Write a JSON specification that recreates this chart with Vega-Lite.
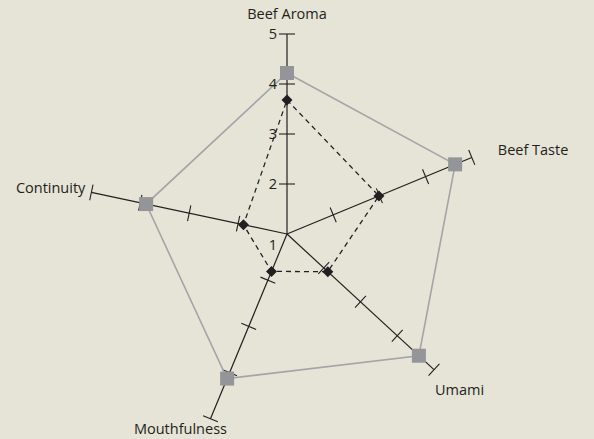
{
  "$schema": "https://vega.github.io/schema/vega-lite/v6.json",
  "width": 594,
  "height": 439,
  "padding": 0,
  "autosize": {"type": "none"},
  "background": "#e6e4d6",
  "config": {
    "view": {"stroke": null},
    "text": {"font": "Open Sans", "fontSize": 14.5, "color": "#231f20"}
  },
  "datasets": {
    "axes": [
      {"attribute": "Beef Aroma", "idx": 1, "angle": 90, "min": 1, "max": 5, "ticks": [2, 3, 4, 5]},
      {"attribute": "Beef Taste", "idx": 2, "angle": 22.5, "min": 1, "max": 5, "ticks": [2, 3, 4, 5]},
      {"attribute": "Umami", "idx": 3, "angle": -42.7, "min": 1, "max": 5, "ticks": [2, 3, 4, 5]},
      {"attribute": "Mouthfulness", "idx": 4, "angle": -112.5, "min": 1, "max": 5, "ticks": [2, 3, 4, 5]},
      {"attribute": "Continuity", "idx": 5, "angle": 168, "min": 1, "max": 5, "ticks": [2, 3, 4, 5]}
    ],
    "scores": [
      {"series": "A", "attribute": "Beef Aroma", "value": 4.22},
      {"series": "A", "attribute": "Beef Taste", "value": 4.64},
      {"series": "A", "attribute": "Umami", "value": 4.59},
      {"series": "A", "attribute": "Mouthfulness", "value": 4.13},
      {"series": "A", "attribute": "Continuity", "value": 3.88},
      {"series": "B", "attribute": "Beef Aroma", "value": 3.68},
      {"series": "B", "attribute": "Beef Taste", "value": 2.99},
      {"series": "B", "attribute": "Umami", "value": 2.11},
      {"series": "B", "attribute": "Mouthfulness", "value": 1.81},
      {"series": "B", "attribute": "Continuity", "value": 1.89}
    ]
  },
  "layer": [
    {
      "data": {"name": "axes"},
      "transform": [
        {"calculate": "datum.angle * PI / 180", "as": "rad"},
        {"calculate": "(datum.min - 1) * cos(datum.rad)", "as": "ox"},
        {"calculate": "(datum.min - 1) * sin(datum.rad)", "as": "oy"},
        {"calculate": "(datum.max - 1) * cos(datum.rad)", "as": "ex"},
        {"calculate": "(datum.max - 1) * sin(datum.rad)", "as": "ey"}
      ],
      "mark": {"type": "rule", "color": "#231f20", "strokeWidth": 1.2},
      "encoding": {
        "x": {"field": "ox", "type": "quantitative", "scale": {"domain": [-5.74, 6.14], "nice": false, "zero": false}, "axis": null},
        "y": {"field": "oy", "type": "quantitative", "scale": {"domain": [-4.1, 4.68], "nice": false, "zero": false}, "axis": null},
        "x2": {"field": "ex"},
        "y2": {"field": "ey"}
      }
    },
    {
      "data": {"name": "axes"},
      "transform": [
        {"flatten": ["ticks"], "as": ["tick"]},
        {"calculate": "datum.angle * PI / 180", "as": "rad"},
        {"calculate": "(datum.tick - 1) * cos(datum.rad) + 0.16 * sin(datum.rad)", "as": "tx1"},
        {"calculate": "(datum.tick - 1) * sin(datum.rad) - 0.16 * cos(datum.rad)", "as": "ty1"},
        {"calculate": "(datum.tick - 1) * cos(datum.rad) - 0.16 * sin(datum.rad)", "as": "tx2"},
        {"calculate": "(datum.tick - 1) * sin(datum.rad) + 0.16 * cos(datum.rad)", "as": "ty2"}
      ],
      "mark": {"type": "rule", "color": "#231f20", "strokeWidth": 1.1},
      "encoding": {
        "x": {"field": "tx1", "type": "quantitative", "scale": {"domain": [-5.74, 6.14], "nice": false, "zero": false}, "axis": null},
        "y": {"field": "ty1", "type": "quantitative", "scale": {"domain": [-4.1, 4.68], "nice": false, "zero": false}, "axis": null},
        "x2": {"field": "tx2"},
        "y2": {"field": "ty2"}
      }
    },
    {
      "data": {"name": "scores"},
      "transform": [
        {"filter": "datum.series == 'A'"},
        {"lookup": "attribute", "from": {"data": {"name": "axes"}, "key": "attribute", "fields": ["angle", "idx"]}},
        {"calculate": "(datum.value - 1) * cos(datum.angle * PI / 180)", "as": "px"},
        {"calculate": "(datum.value - 1) * sin(datum.angle * PI / 180)", "as": "py"}
      ],
      "mark": {"type": "line", "interpolate": "linear-closed", "color": "#a3a5a8", "strokeWidth": 1.6},
      "encoding": {
        "x": {"field": "px", "type": "quantitative", "scale": {"domain": [-5.74, 6.14], "nice": false, "zero": false}, "axis": null},
        "y": {"field": "py", "type": "quantitative", "scale": {"domain": [-4.1, 4.68], "nice": false, "zero": false}, "axis": null},
        "order": {"field": "idx", "type": "quantitative"}
      }
    },
    {
      "data": {"name": "scores"},
      "transform": [
        {"filter": "datum.series == 'B'"},
        {"lookup": "attribute", "from": {"data": {"name": "axes"}, "key": "attribute", "fields": ["angle", "idx"]}},
        {"calculate": "(datum.value - 1) * cos(datum.angle * PI / 180)", "as": "px"},
        {"calculate": "(datum.value - 1) * sin(datum.angle * PI / 180)", "as": "py"}
      ],
      "mark": {"type": "line", "interpolate": "linear-closed", "color": "#231f20", "strokeWidth": 1.3, "strokeDash": [5, 4]},
      "encoding": {
        "x": {"field": "px", "type": "quantitative", "scale": {"domain": [-5.74, 6.14], "nice": false, "zero": false}, "axis": null},
        "y": {"field": "py", "type": "quantitative", "scale": {"domain": [-4.1, 4.68], "nice": false, "zero": false}, "axis": null},
        "order": {"field": "idx", "type": "quantitative"}
      }
    },
    {
      "data": {"name": "scores"},
      "transform": [
        {"filter": "datum.series == 'A'"},
        {"lookup": "attribute", "from": {"data": {"name": "axes"}, "key": "attribute", "fields": ["angle", "idx"]}},
        {"calculate": "(datum.value - 1) * cos(datum.angle * PI / 180)", "as": "px"},
        {"calculate": "(datum.value - 1) * sin(datum.angle * PI / 180)", "as": "py"}
      ],
      "mark": {"type": "point", "shape": "square", "filled": true, "size": 196, "color": "#939598", "opacity": 1},
      "encoding": {
        "x": {"field": "px", "type": "quantitative", "scale": {"domain": [-5.74, 6.14], "nice": false, "zero": false}, "axis": null},
        "y": {"field": "py", "type": "quantitative", "scale": {"domain": [-4.1, 4.68], "nice": false, "zero": false}, "axis": null}
      }
    },
    {
      "data": {"name": "scores"},
      "transform": [
        {"filter": "datum.series == 'B'"},
        {"lookup": "attribute", "from": {"data": {"name": "axes"}, "key": "attribute", "fields": ["angle", "idx"]}},
        {"calculate": "(datum.value - 1) * cos(datum.angle * PI / 180)", "as": "px"},
        {"calculate": "(datum.value - 1) * sin(datum.angle * PI / 180)", "as": "py"}
      ],
      "mark": {"type": "point", "shape": "diamond", "filled": true, "size": 121, "color": "#231f20", "opacity": 1},
      "encoding": {
        "x": {"field": "px", "type": "quantitative", "scale": {"domain": [-5.74, 6.14], "nice": false, "zero": false}, "axis": null},
        "y": {"field": "py", "type": "quantitative", "scale": {"domain": [-4.1, 4.68], "nice": false, "zero": false}, "axis": null}
      }
    },
    {
      "data": {"name": "axes"},
      "transform": [
        {"filter": "datum.attribute == 'Beef Aroma'"},
        {"flatten": ["ticks"], "as": ["tick"]},
        {"calculate": "(datum.tick - 1) * cos(datum.angle * PI / 180)", "as": "cx"},
        {"calculate": "(datum.tick - 1) * sin(datum.angle * PI / 180)", "as": "cy"}
      ],
      "mark": {"type": "text", "align": "right", "baseline": "middle", "dx": -10, "dy": 1},
      "encoding": {
        "x": {"field": "cx", "type": "quantitative", "scale": {"domain": [-5.74, 6.14], "nice": false, "zero": false}, "axis": null},
        "y": {"field": "cy", "type": "quantitative", "scale": {"domain": [-4.1, 4.68], "nice": false, "zero": false}, "axis": null},
        "text": {"field": "tick"}
      }
    },
    {
      "data": {"name": "axes"},
      "transform": [
        {"filter": "datum.attribute == 'Beef Aroma'"},
        {"calculate": "(datum.min - 1) * cos(datum.angle * PI / 180)", "as": "cx"},
        {"calculate": "(datum.min - 1) * sin(datum.angle * PI / 180)", "as": "cy"}
      ],
      "mark": {"type": "text", "align": "right", "baseline": "middle", "dx": -10, "dy": 12},
      "encoding": {
        "x": {"field": "cx", "type": "quantitative", "scale": {"domain": [-5.74, 6.14], "nice": false, "zero": false}, "axis": null},
        "y": {"field": "cy", "type": "quantitative", "scale": {"domain": [-4.1, 4.68], "nice": false, "zero": false}, "axis": null},
        "text": {"field": "min"}
      }
    },
    {
      "data": {"name": "axes"},
      "transform": [
        {"filter": "datum.attribute == 'Beef Aroma'"},
        {"calculate": "(datum.max - 1) * cos(datum.angle * PI / 180)", "as": "ex"},
        {"calculate": "(datum.max - 1) * sin(datum.angle * PI / 180)", "as": "ey"}
      ],
      "mark": {"type": "text", "align": "center", "baseline": "middle", "dy": -19},
      "encoding": {
        "x": {"field": "ex", "type": "quantitative", "scale": {"domain": [-5.74, 6.14], "nice": false, "zero": false}, "axis": null},
        "y": {"field": "ey", "type": "quantitative", "scale": {"domain": [-4.1, 4.68], "nice": false, "zero": false}, "axis": null},
        "text": {"field": "attribute"}
      }
    },
    {
      "data": {"name": "axes"},
      "transform": [
        {"filter": "datum.attribute == 'Beef Taste'"},
        {"calculate": "(datum.max - 1) * cos(datum.angle * PI / 180)", "as": "ex"},
        {"calculate": "(datum.max - 1) * sin(datum.angle * PI / 180)", "as": "ey"}
      ],
      "mark": {"type": "text", "align": "left", "baseline": "middle", "dx": 26, "dy": -6},
      "encoding": {
        "x": {"field": "ex", "type": "quantitative", "scale": {"domain": [-5.74, 6.14], "nice": false, "zero": false}, "axis": null},
        "y": {"field": "ey", "type": "quantitative", "scale": {"domain": [-4.1, 4.68], "nice": false, "zero": false}, "axis": null},
        "text": {"field": "attribute"}
      }
    },
    {
      "data": {"name": "axes"},
      "transform": [
        {"filter": "datum.attribute == 'Umami'"},
        {"calculate": "(datum.max - 1) * cos(datum.angle * PI / 180)", "as": "ex"},
        {"calculate": "(datum.max - 1) * sin(datum.angle * PI / 180)", "as": "ey"}
      ],
      "mark": {"type": "text", "align": "left", "baseline": "middle", "dx": 1, "dy": 21},
      "encoding": {
        "x": {"field": "ex", "type": "quantitative", "scale": {"domain": [-5.74, 6.14], "nice": false, "zero": false}, "axis": null},
        "y": {"field": "ey", "type": "quantitative", "scale": {"domain": [-4.1, 4.68], "nice": false, "zero": false}, "axis": null},
        "text": {"field": "attribute"}
      }
    },
    {
      "data": {"name": "axes"},
      "transform": [
        {"filter": "datum.attribute == 'Mouthfulness'"},
        {"calculate": "(datum.max - 1) * cos(datum.angle * PI / 180)", "as": "ex"},
        {"calculate": "(datum.max - 1) * sin(datum.angle * PI / 180)", "as": "ey"}
      ],
      "mark": {"type": "text", "align": "center", "baseline": "middle", "dx": -30, "dy": 11},
      "encoding": {
        "x": {"field": "ex", "type": "quantitative", "scale": {"domain": [-5.74, 6.14], "nice": false, "zero": false}, "axis": null},
        "y": {"field": "ey", "type": "quantitative", "scale": {"domain": [-4.1, 4.68], "nice": false, "zero": false}, "axis": null},
        "text": {"field": "attribute"}
      }
    },
    {
      "data": {"name": "axes"},
      "transform": [
        {"filter": "datum.attribute == 'Continuity'"},
        {"calculate": "(datum.max - 1) * cos(datum.angle * PI / 180)", "as": "ex"},
        {"calculate": "(datum.max - 1) * sin(datum.angle * PI / 180)", "as": "ey"}
      ],
      "mark": {"type": "text", "align": "right", "baseline": "middle", "dx": -6, "dy": -3},
      "encoding": {
        "x": {"field": "ex", "type": "quantitative", "scale": {"domain": [-5.74, 6.14], "nice": false, "zero": false}, "axis": null},
        "y": {"field": "ey", "type": "quantitative", "scale": {"domain": [-4.1, 4.68], "nice": false, "zero": false}, "axis": null},
        "text": {"field": "attribute"}
      }
    }
  ]
}
